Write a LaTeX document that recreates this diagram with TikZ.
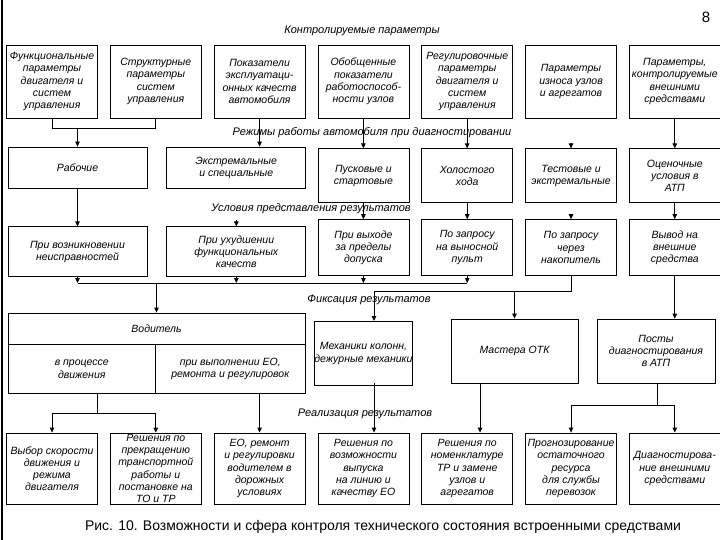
\documentclass[tikz,border=0pt]{standalone}
\usepackage{fontspec}
\newfontfamily\diagfont{Liberation Sans}
\usetikzlibrary{arrows.meta, positioning}

\begin{document}
\begin{tikzpicture}[
  x=1pt, y=-1pt,
  node distance=12pt and 12pt,
  box/.style={draw, align=center, inner sep=0pt, font=\diagfont\itshape\fontsize{10.5}{12.2}\selectfont, minimum width=91pt, minimum height=73pt},
  widebox/.style={box, minimum width=139pt},
  lbl/.style={font=\diagfont\itshape\fontsize{11}{13}\selectfont, inner sep=0pt},
  arrow/.style={-{Triangle[length=5pt,width=4.5pt]}, line width=0.8pt},
  every path/.style={line width=0.8pt}
]
\useasboundingbox (0,0) rectangle (720,540);
\draw[line width=1.5pt] (2,0) -- (2,540);

\node[font=\diagfont\fontsize{15}{17}\selectfont] (page) at (706,17) {8};
\node[lbl] (lctrl) at (362,31) {Контролируемые параметры};

% controlled parameters
\node[box] (b1) at (52,81.5) {Функциональные\\параметры\\двигателя и\\систем\\управления};
\node[box, right=of b1] (b2) {Структурные\\параметры\\систем\\управления};
\node[box, right=of b2] (b3) {Показатели\\эксплуатаци-\\онных качеств\\автомобиля};
\node[box, right=of b3] (b4) {Обобщенные\\показатели\\работоспособ-\\ности узлов};
\node[box, right=of b4] (b5) {Регулировочные\\параметры\\двигателя и\\систем\\управления};
\node[box, right=of b5] (b6) {Параметры\\износа узлов\\и агрегатов};
\node[box, right=of b6] (b7) {Параметры,\\контролируемые\\внешними\\средствами};

% modes
\node[lbl] (lmode) at (372,133) {Режимы работы автомобиля при диагностировании};
\node[widebox, minimum height=41pt] (r1) at (77.5,167.5) {Рабочие};
\node[widebox, minimum height=41pt, right=19pt of r1] (r2) {Экстремальные\\и специальные};
\node[box, minimum height=54pt, below=30pt of b4] (r3) {Пусковые и\\стартовые};
\node[box, minimum height=54pt, below=30pt of b5] (r4) {Холостого\\хода};
\node[box, minimum height=54pt, below=30pt of b6] (r5) {Тестовые и\\экстремальные};
\node[box, minimum height=54pt, below=30pt of b7] (r6) {Оценочные\\условия в\\АТП};

% conditions
\node[lbl] (lcond) at (311,209) {Условия представления результатов};
\node[widebox, minimum height=50pt, below=38pt of r1] (c1) {При возникновении\\неисправностей};
\node[widebox, minimum height=50pt, below=38pt of r2] (c2) {При ухудшении\\функциональных\\качеств};
\node[box, minimum height=56pt, below=16pt of r3] (c3) {При выходе\\за пределы\\допуска};
\node[box, minimum height=56pt, below=16pt of r4] (c4) {По запросу\\на выносной\\пульт};
\node[box, minimum height=56pt, below=16pt of r5] (c5) {По запросу\\через\\накопитель};
\node[box, minimum height=56pt, below=16pt of r6] (c6) {Вывод на\\внешние\\средства};

% fixing
\node[lbl] (lfix) at (369,300) {Фиксация результатов};
\node[box, minimum width=297pt, minimum height=31pt] (drv) at (156.5,328.5) {Водитель};
\node[box, minimum width=147.5pt, minimum height=49pt, anchor=north west] (drv1) at (drv.south west) {в процессе\\движения};
\node[box, minimum width=149.5pt, minimum height=49pt, anchor=north east] (drv2) at (drv.south east) {при выполнении ЕО,\\ремонта и регулировок};
\node[box, minimum height=64pt, below=45pt of c3] (m1) {Механики колонн,\\дежурные механики};
\node[box, minimum width=127pt, minimum height=64pt] (m2) at (514.5,351) {Мастера ОТК};
\node[box, minimum width=118pt, minimum height=64pt] (m3) at (656,351) {Посты\\диагностирования\\в АТП};

% realisation
\node[lbl] (lreal) at (365,414) {Реализация результатов};
\node[box, minimum height=71pt] (d1) at (52,468.5) {Выбор скорости\\движения и\\режима\\двигателя};
\node[box, minimum height=71pt, right=of d1] (d2) {Решения по\\прекращению\\транспортной\\работы и\\постановке на\\ТО и ТР};
\node[box, minimum height=71pt, right=of d2] (d3) {ЕО, ремонт\\и регулировки\\водителем в\\дорожных\\условиях};
\node[box, minimum height=71pt, right=of d3] (d4) {Решения по\\возможности\\выпуска\\на линию и\\качеству ЕО};
\node[box, minimum height=71pt, right=of d4] (d5) {Решения по\\номенклатуре\\ТР и замене\\узлов и\\агрегатов};
\node[box, minimum height=71pt, right=of d5] (d6) {Прогнозирование\\остаточного\\ресурса\\для службы\\перевозок};
\node[box, minimum height=71pt, right=of d6] (d7) {Диагностирова-\\ние внешними\\средствами};

\node[font=\diagfont\fontsize{14}{16}\selectfont] (caption) at (383,527) {Рис. 10. Возможности и сфера контроля технического состояния встроенными средствами};

% connectors
\coordinate (j1) at (77.5,128);
\draw (b1) -- (b1 |- j1) -- (b2 |- j1) -- (b2);
\draw[arrow] (j1) -- (r1);
\draw[arrow] (b3) -- (b3 |- r2.north);
\draw[arrow] (b4) -- (r3);
\draw[arrow] (b5) -- (r4);
\draw[arrow] ([yshift=5pt]r5.north) -- (r5);
\draw[arrow] (b7) -- (r6);

\draw[arrow] (r1) -- (c1);
\draw[arrow] ([yshift=6pt]c2.north) -- (c2);
\draw[arrow] (r3) -- (c3);
\draw[arrow] (r4) -- (c4);
\draw[arrow] ([yshift=5pt]c5.north) -- (c5);
\draw[arrow] (r6) -- (c6);

\coordinate (bus1) at (77.5,283);
\foreach \n in {c1,c2,c3,c4}
  \draw[arrow] (\n) -- (\n |- bus1);
\draw (c1 |- bus1) -- (c4 |- bus1);
\draw[arrow] (drv |- bus1) -- (drv);

\coordinate (bus2) at (374,291);
\draw (c5) -- (c5 |- bus2) -- (bus2);
\draw[arrow] (bus2) -- (bus2 |- m1.north);
\draw[arrow] (m2 |- bus2) -- (m2);
\draw[arrow] (c6) -- (c6 |- m3.north);

\coordinate (j2) at (97,413);
\draw (j2 |- drv1.south) -- (j2);
\draw (d1 |- j2) -- (d2 |- j2);
\draw[arrow] (d1 |- j2) -- (d1);
\draw[arrow] (d2 |- j2) -- (d2);
\draw[arrow] (drv2.south -| d3) -- (d3);
\coordinate (j3) at (374,383);
\draw[arrow] (j3) -- (j3 |- d4.north);
\coordinate (j4) at (480,383);
\draw[arrow] (j4) -- (j4 |- d5.north);
\coordinate (j5) at (657,405);
\draw (j5 |- m3.south) -- (j5);
\draw (d6 |- j5) -- (d7 |- j5);
\draw[arrow] (d6 |- j5) -- (d6);
\draw[arrow] (d7 |- j5) -- (d7);
\end{tikzpicture}
\end{document}
